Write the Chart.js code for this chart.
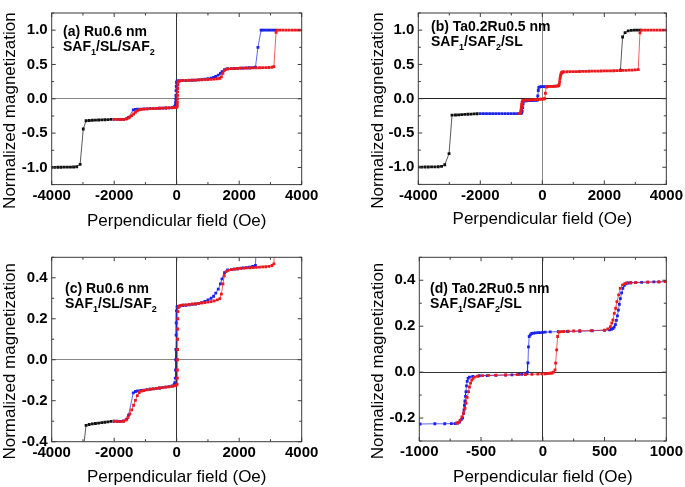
<!DOCTYPE html>
<html>
<head>
<meta charset="utf-8">
<script src="https://cdn.jsdelivr.net/npm/chart.js@4.4.1/dist/chart.umd.min.js"></script>
<style>
  body { margin: 0; background: #fff; width: 685px; height: 487px; position: relative; overflow: hidden; font-family: "Liberation Sans", Arial, sans-serif; }
  canvas { position: absolute; }
  .note { position: absolute; font-weight: bold; font-size: 14px; line-height: 15px; color: #000; white-space: nowrap; }
  .note span { font-size: 9px; position: relative; top: 4px; }
</style>
</head>
<body>
<canvas id="chart-a" width="342" height="240" style="left:0;top:0"></canvas>
<canvas id="chart-b" width="343" height="240" style="left:342px;top:0"></canvas>
<canvas id="chart-c" width="342" height="247" style="left:0;top:240px"></canvas>
<canvas id="chart-d" width="343" height="247" style="left:342px;top:240px"></canvas>

<div class="note" style="left:63px;top:24px">(a) Ru0.6 nm<br>SAF<span>1</span>/SL/SAF<span>2</span></div>
<div class="note" style="left:431px;top:19px">(b) Ta0.2Ru0.5 nm<br>SAF<span>1</span>/SAF<span>2</span>/SL</div>
<div class="note" style="left:65px;top:281px">(c) Ru0.6 nm<br>SAF<span>1</span>/SL/SAF<span>2</span></div>
<div class="note" style="left:430px;top:281px">(d) Ta0.2Ru0.5 nm<br>SAF<span>1</span>/SAF<span>2</span>/SL</div>

<script>
// Ru0.6 nm loop, used in (a) and (c)
let ruBlackField = [-4000, -3900, -3800, -3700, -3600, -3500, -3400, -3300, -3200, -3090, -2990, -2900, -2800, -2700, -2600, -2500, -2400, -2300, -2200, -2100];
let ruBlackMag = [-0.998, -0.998, -0.997, -0.997, -0.996, -0.996, -0.995, -0.994, -0.99, -0.955, -0.44, -0.32, -0.316, -0.313, -0.311, -0.309, -0.307, -0.305, -0.303, -0.301];

let ruBlueField = [3150, 3070, 2990, 2910, 2830, 2750, 2700, 2600, 2520, 2430,
  2330, 2230, 2130, 2050, 1950, 1850, 1750, 1630, 1530, 1450,
  1400, 1330, 1250, 1180, 1100, 1000, 900, 800, 700, 600,
  500, 400, 300, 200, 100, 40, 10, -5, -15, -20,
  -25, -30, -35, -45, -60, -80, -150, -250, -350, -450,
  -550, -650, -750, -850, -950, -1050, -1150, -1250, -1320, -1390,
  -1540, -1600, -1700, -1800, -1900, -2000];
let ruBlueMag = [1.0, 1.0, 1.0, 1.0, 1.0, 1.0, 1.0, 0.75, 0.46, 0.455,
  0.452, 0.45, 0.448, 0.447, 0.444, 0.442, 0.44, 0.438, 0.425, 0.395,
  0.37, 0.345, 0.325, 0.31, 0.3, 0.292, 0.285, 0.279, 0.275, 0.272,
  0.27, 0.268, 0.266, 0.264, 0.262, 0.26, 0.258, 0.24, 0.18, 0.12,
  0.05, 0.0, -0.05, -0.09, -0.112, -0.12, -0.128, -0.131, -0.134, -0.136,
  -0.138, -0.14, -0.142, -0.144, -0.146, -0.148, -0.15, -0.152, -0.155, -0.162,
  -0.27, -0.29, -0.299, -0.301, -0.3, -0.3];

let ruRedField = [-2000, -1900, -1800, -1700, -1620, -1560, -1500, -1440, -1380, -1320,
  -1260, -1200, -1130, -1050, -950, -850, -750, -650, -550, -450,
  -350, -250, -150, -80, -20, 10, 20, 22, 25, 28,
  30, 33, 36, 40, 50, 80, 130, 200, 300, 400,
  500, 600, 700, 800, 900, 1000, 1100, 1200, 1300, 1380,
  1430, 1480, 1520, 1580, 1650, 1750, 1850, 1950, 2050, 2150,
  2250, 2350, 2450, 2550, 2650, 2750, 2850, 2950, 3050, 3110,
  3180, 3220, 3300, 3400, 3500, 3600, 3700, 3800, 3900, 4000];
let ruRedMag = [-0.3, -0.301, -0.302, -0.3, -0.294, -0.282, -0.265, -0.245, -0.222, -0.198,
  -0.175, -0.16, -0.153, -0.15, -0.147, -0.144, -0.142, -0.14, -0.138, -0.136,
  -0.134, -0.132, -0.13, -0.127, -0.125, -0.12, -0.09, -0.05, 0.0, 0.05,
  0.1, 0.15, 0.2, 0.235, 0.255, 0.262, 0.265, 0.267, 0.268, 0.27,
  0.272, 0.273, 0.275, 0.277, 0.279, 0.281, 0.284, 0.287, 0.292, 0.298,
  0.32, 0.37, 0.41, 0.43, 0.436, 0.44, 0.442, 0.444, 0.446, 0.447,
  0.448, 0.449, 0.45, 0.451, 0.452, 0.453, 0.454, 0.456, 0.46, 0.468,
  0.97, 1.0, 1.0, 1.0, 1.0, 1.0, 1.0, 1.0, 1.0, 1.0];

// Ta0.2Ru0.5 nm full loop (b)
let taBlackLowField = [-4000, -3893, -3786, -3679, -3572, -3465, -3358, -3250, -3146, -3008, -2912, -2800, -2700, -2600, -2500, -2400, -2300, -2200, -2100];
let taBlackLowMag = [-0.997, -0.997, -0.996, -0.996, -0.995, -0.994, -0.992, -0.988, -0.963, -0.8, -0.24, -0.238, -0.235, -0.232, -0.229, -0.227, -0.225, -0.222, -0.22];
let taBlackHighField = [3150, 3060, 2970, 2870, 2770, 2670, 2590, 2520];
let taBlackHighMag = [1.0, 1.0, 0.999, 0.997, 0.99, 0.965, 0.9, 0.415];

let taBlueField = [160, 90, 30, -30, -80, -110, -130, -145, -160,
  -200, -260, -320, -380, -440, -500, -560,
  -600, -620, -635, -650, -665, -685, -720,
  -800, -900, -1000, -1100, -1200, -1300, -1400, -1500, -1600, -1700, -1800, -1900, -2000];
let taBlueMag = [0.178, 0.177, 0.176, 0.175, 0.172, 0.165, 0.12, 0.04, -0.02,
  -0.024, -0.025, -0.026, -0.027, -0.028, -0.03, -0.032,
  -0.04, -0.08, -0.13, -0.18, -0.205, -0.214, -0.217,
  -0.218, -0.218, -0.218, -0.218, -0.218, -0.218, -0.218, -0.218, -0.218, -0.218, -0.218, -0.218, -0.218];

let taRedField = [-750, -720, -705, -695, -688, -681, -674, -667, -660, -653,
  -645, -635, -620, -600, -560, -500, -440, -380, -320, -260,
  -200, -140, -80, -20, 40, 80, 100, 128, 160, 200,
  250, 300, 350, 400, 450, 500, 530, 545, 558, 570,
  582, 594, 606, 620, 640, 665, 700, 800, 900, 1000,
  1100, 1200, 1300, 1400, 1500, 1600, 1700, 1800, 1900, 2000,
  2100, 2200, 2300, 2400, 2500, 2600, 2700, 2800, 2900, 3000,
  3094, 3150, 3200, 3300, 3400, 3500, 3600, 3700, 3800, 3900, 4000];
let taRedMag = [-0.218, -0.215, -0.21, -0.195, -0.175, -0.15, -0.125, -0.1, -0.08, -0.06,
  -0.045, -0.033, -0.027, -0.024, -0.022, -0.021, -0.02, -0.018, -0.016, -0.014,
  -0.012, -0.01, -0.008, -0.006, -0.004, 0.0, 0.08, 0.17, 0.178, 0.179,
  0.18, 0.18, 0.181, 0.182, 0.183, 0.185, 0.19, 0.21, 0.25, 0.29,
  0.32, 0.345, 0.365, 0.378, 0.386, 0.39, 0.392, 0.393, 0.394, 0.395,
  0.396, 0.397, 0.398, 0.399, 0.4, 0.401, 0.402, 0.403, 0.404, 0.405,
  0.406, 0.407, 0.408, 0.409, 0.41, 0.412, 0.414, 0.416, 0.418, 0.42,
  0.425, 0.96, 1.0, 1.0, 1.0, 1.0, 1.0, 1.0, 1.0, 1.0, 1.0];

// Ta0.2Ru0.5 nm minor loop (d)
let tdBlueField = [992, 940, 899, 850, 800, 752, 712, 690, 672, 660,
  648, 638, 628, 620, 612, 604, 596, 588, 578, 568,
  555, 540, 500, 400, 300, 200, 126, 60, 19, 0,
  -20, -40, -60, -75, -90, -101, -110, -116, -120, -124,
  -130, -141, -170, -194, -250, -301, -380, -450, -514, -567,
  -594, -605, -612, -618, -622, -626, -630, -634, -638, -642,
  -650, -661, -675, -690, -710, -740, -794, -874, -994];
let tdBlueMag = [0.394, 0.393, 0.393, 0.392, 0.391, 0.39, 0.389, 0.388, 0.384, 0.378,
  0.365, 0.345, 0.32, 0.295, 0.27, 0.245, 0.225, 0.207, 0.196, 0.19,
  0.186, 0.184, 0.182, 0.18, 0.178, 0.177, 0.176, 0.175, 0.174, 0.173,
  0.172, 0.172, 0.171, 0.17, 0.168, 0.162, 0.155, 0.11, 0.04, 0.0,
  -0.006, -0.009, -0.01, -0.01, -0.012, -0.013, -0.014, -0.015, -0.016, -0.019,
  -0.022, -0.027, -0.04, -0.06, -0.085, -0.106, -0.125, -0.145, -0.165, -0.18,
  -0.2, -0.207, -0.218, -0.222, -0.224, -0.224, -0.225, -0.225, -0.226];

let tdRedField = [-700, -690, -680, -669, -655, -642, -630, -621, -612, -602,
  -594, -585, -575, -565, -554, -528, -488, -440, -381, -301,
  -208, -141, -88, -40, -8, 20, 40, 59, 75, 86,
  99, 104, 112, 120, 131, 150, 170, 206, 250, 299,
  392, 499, 526, 547, 558, 568, 579, 590, 600, 614,
  627, 646, 664, 680, 712, 752, 850, 940, 992];
let tdRedMag = [-0.222, -0.221, -0.218, -0.21, -0.195, -0.178, -0.158, -0.135, -0.11, -0.085,
  -0.065, -0.048, -0.035, -0.027, -0.022, -0.018, -0.015, -0.014, -0.013, -0.012,
  -0.011, -0.011, -0.01, -0.009, -0.008, -0.007, -0.006, -0.005, -0.004, 0.0,
  0.01, 0.039, 0.097, 0.155, 0.174, 0.176, 0.177, 0.178, 0.179, 0.18,
  0.181, 0.183, 0.188, 0.198, 0.213, 0.227, 0.256, 0.278, 0.307, 0.336,
  0.365, 0.38, 0.385, 0.388, 0.389, 0.39, 0.392, 0.393, 0.394];

// tick labels
let wideFieldTicks = [-4000, -2000, 0, 2000, 4000];
let narrowFieldTicks = [-1000, -500, 0, 500, 1000];
let fullMagTicks = [-1.0, -0.5, 0.0, 0.5, 1.0];
let zoomMagTicksC = [-0.4, -0.2, 0.0, 0.2, 0.4];
let zoomMagTicksD = [-0.2, 0.0, 0.2, 0.4];

let black = "#111111";
let blue = "rgb(25,35,235)";
let red = "rgb(235,25,30)";
let fontFamily = "'Liberation Sans', Arial, sans-serif";

// draws every major tick (k even) and the minor tick half way between
function eachTick(scale, draw) {
  let t = scale.ticks;
  let half = (t[1].value - t[0].value) / 2;
  let kMin = Math.ceil((scale.min - t[0].value) / half - 1e-6);
  let kMax = Math.floor((scale.max - t[0].value) / half + 1e-6);
  for (let k = kMin; k <= kMax; k++) {
    draw(scale.getPixelForValue(t[0].value + k * half), k % 2 === 0);
  }
}

// box around the plot with ticks pointing inwards
let frameTicks = {
  id: "frameTicks",
  afterDraw: function (chart) {
    let ctx = chart.ctx;
    let a = chart.chartArea;
    ctx.save();
    ctx.strokeStyle = "#3a3a3a";
    ctx.lineWidth = 1;
    ctx.strokeRect(a.left, a.top, a.right - a.left, a.bottom - a.top);
    ctx.beginPath();
    eachTick(chart.scales.x, function (px, major) {
      let len = major ? 4 : 2.5;
      ctx.moveTo(px, a.bottom);
      ctx.lineTo(px, a.bottom - len);
      ctx.moveTo(px, a.top);
      ctx.lineTo(px, a.top + len);
    });
    eachTick(chart.scales.y, function (py, major) {
      let len = major ? 4 : 2.5;
      ctx.moveTo(a.left, py);
      ctx.lineTo(a.left + len, py);
      ctx.moveTo(a.right, py);
      ctx.lineTo(a.right - len, py);
    });
    ctx.stroke();
    ctx.restore();
  },
};

function series(field, mag, color) {
  return {
    data: field.map(function (f, i) {
      return { x: f, y: mag[i] };
    }),
    showLine: true,
    borderColor: color,
    borderWidth: 0.7,
    pointStyle: "rect",
    pointRadius: 2,
    pointBorderWidth: 0,
    pointBackgroundColor: color,
  };
}

function makePanel(id, p) {
  return new Chart(document.getElementById(id), {
    type: "scatter",
    data: { datasets: p.datasets },
    options: {
      responsive: false,
      animation: false,
      events: [],
      layout: { padding: p.padding },
      plugins: { legend: { display: false }, tooltip: { enabled: false } },
      scales: {
        x: {
          type: "linear",
          min: p.xMin,
          max: p.xMax,
          afterBuildTicks: function (s) {
            s.ticks = p.xTicks.map(function (v) { return { value: v }; });
          },
          afterFit: function (s) { s.height = p.xHeight; },
          border: { display: false },
          grid: {
            drawTicks: false,
            lineWidth: 1,
            color: function (c) { return c.tick && c.tick.value === 0 ? p.zeroX : "rgba(0,0,0,0)"; },
          },
          ticks: {
            autoSkip: false,
            maxRotation: 0,
            padding: 2,
            color: "#000",
            font: { family: fontFamily, size: 15, weight: "bold" },
            callback: function (v) { return String(v); },
          },
          title: {
            display: true,
            text: "Perpendicular field (Oe)",
            color: "#000",
            font: { family: fontFamily, size: 17 },
            padding: { top: 0, bottom: p.xTitlePad },
          },
        },
        y: {
          type: "linear",
          min: p.yMin,
          max: p.yMax,
          afterBuildTicks: function (s) {
            s.ticks = p.yTicks.map(function (v) { return { value: v }; });
          },
          afterFit: function (s) { s.width = p.yWidth; },
          border: { display: false },
          grid: {
            drawTicks: false,
            lineWidth: 1,
            color: function (c) { return c.tick && Math.abs(c.tick.value) < 1e-9 ? p.zeroY : "rgba(0,0,0,0)"; },
          },
          ticks: {
            padding: 4,
            color: "#000",
            font: { family: fontFamily, size: 15, weight: "bold" },
            callback: function (v) { return v.toFixed(1); },
          },
          title: {
            display: true,
            text: "Normalized magnetization     ",
            color: "#000",
            font: { family: fontFamily, size: 17 },
            padding: { top: p.yTitlePad, bottom: 0 },
          },
        },
      },
    },
    plugins: [frameTicks],
  });
}

let ruSeries = [
  series(ruRedField, ruRedMag, red),
  series(ruBlueField, ruBlueMag, blue),
  series(ruBlackField, ruBlackMag, black),
];

makePanel("chart-a", {
  datasets: ruSeries,
  padding: { left: 0, top: 1, right: 40.3, bottom: 0 },
  xMin: -4000, xMax: 4000, xTicks: wideFieldTicks,
  yMin: -1.25, yMax: 1.25, yTicks: fullMagTicks,
  yWidth: 51.7, xHeight: 55.4, xTitlePad: 8, yTitlePad: 0,
  zeroX: "#333", zeroY: "#888",
});

makePanel("chart-b", {
  datasets: [
    series(taRedField, taRedMag, red),
    series(taBlueField, taBlueMag, blue),
    series(taBlackLowField, taBlackLowMag, black),
    series(taBlackHighField, taBlackHighMag, black),
  ],
  padding: { left: 0, top: 0.2, right: 16.7, bottom: 0 },
  xMin: -4000, xMax: 4000, xTicks: wideFieldTicks,
  yMin: -1.25, yMax: 1.25, yTicks: fullMagTicks,
  yWidth: 76.3, xHeight: 55.6, xTitlePad: 10, yTitlePad: 26,
  zeroX: "#888", zeroY: "#222",
});

makePanel("chart-c", {
  datasets: [
    series(ruRedField, ruRedMag, red),
    series(ruBlueField, ruBlueMag, blue),
    series(ruBlackField, ruBlackMag, black),
  ],
  padding: { left: 0, top: 17.3, right: 40.3, bottom: 0 },
  xMin: -4000, xMax: 4000, xTicks: wideFieldTicks,
  yMin: -0.4, yMax: 0.5, yTicks: zoomMagTicksC,
  yWidth: 51.7, xHeight: 45.3, xTitlePad: -1, yTitlePad: 0,
  zeroX: "#333", zeroY: "#888",
});

makePanel("chart-d", {
  datasets: [
    series(tdRedField, tdRedMag, red),
    series(tdBlueField, tdBlueMag, blue),
  ],
  padding: { left: 0, top: 17.3, right: 15.7, bottom: 0 },
  xMin: -1000, xMax: 1000, xTicks: narrowFieldTicks,
  yMin: -0.3, yMax: 0.5, yTicks: zoomMagTicksD,
  yWidth: 77.3, xHeight: 46, xTitlePad: -1, yTitlePad: 26,
  zeroX: "#333", zeroY: "#333",
});
</script>
</body>
</html>
